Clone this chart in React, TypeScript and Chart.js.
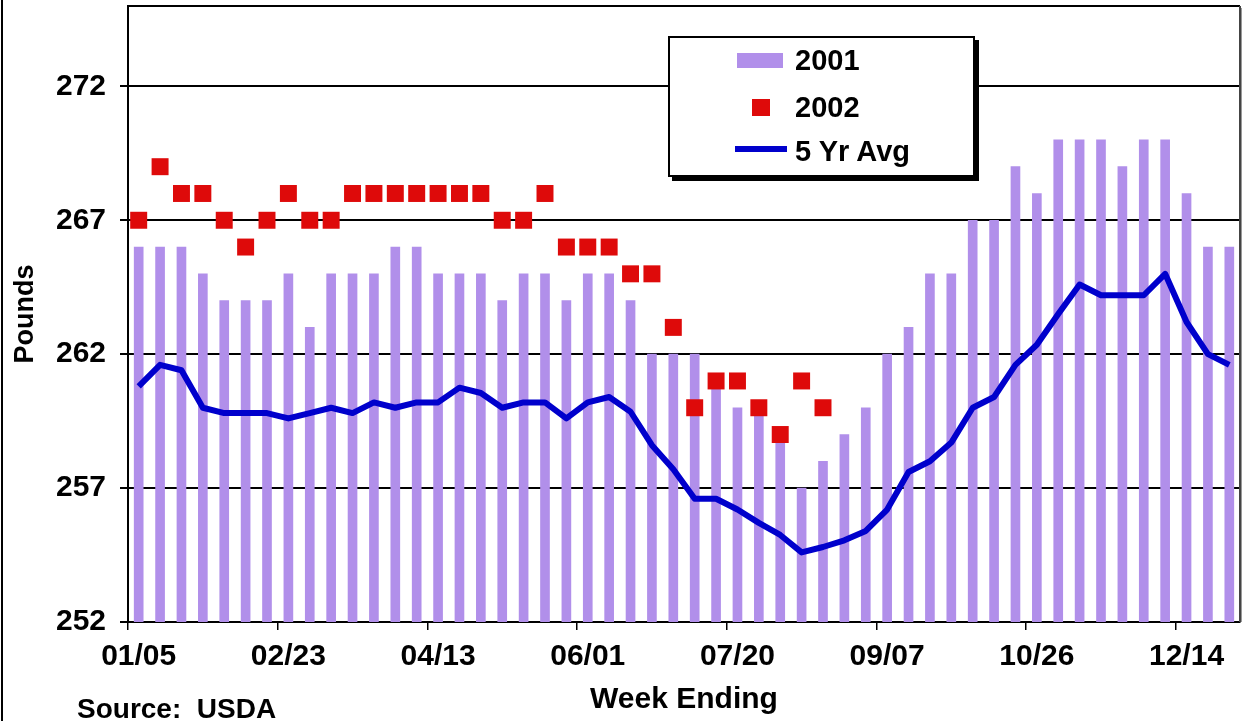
import React, { useEffect, useRef } from "react";
import { Chart, registerables } from "chart.js";

Chart.register(...registerables);

const WEEKS = [
  "01/05", "01/12", "01/19", "01/26", "02/02", "02/09", "02/16", "02/23",
  "03/02", "03/09", "03/16", "03/23", "03/30", "04/06", "04/13", "04/20",
  "04/27", "05/04", "05/11", "05/18", "05/25", "06/01", "06/08", "06/15",
  "06/22", "06/29", "07/06", "07/13", "07/20", "07/27", "08/03", "08/10",
  "08/17", "08/24", "08/31", "09/07", "09/14", "09/21", "09/28", "10/05",
  "10/12", "10/19", "10/26", "11/02", "11/09", "11/16", "11/23", "11/30",
  "12/07", "12/14", "12/21", "12/28",
];

const Y2001 = [
  266, 266, 266, 265, 264, 264, 264, 265, 263, 265, 265, 265, 266, 266, 265, 265,
  265, 264, 265, 265, 264, 265, 265, 264, 262, 262, 262, 261, 260, 260, 259, 257,
  258, 259, 260, 262, 263, 265, 265, 267, 267, 269, 268, 270, 270, 270, 269, 270,
  270, 268, 266, 266,
];

const Y2002 = [
  267, 269, 268, 268, 267, 266, 267, 268, 267, 267, 268, 268, 268, 268, 268, 268,
  268, 267, 267, 268, 266, 266, 266, 265, 265, 263, 260, 261, 261, 260, 259, 261,
  260, null, null, null, null, null, null, null, null, null, null, null, null, null,
  null, null, null, null, null, null,
];

const AVG5 = [
  260.8, 261.6, 261.4, 260.0, 259.8, 259.8, 259.8, 259.6, 259.8, 260.0, 259.8, 260.2,
  260.0, 260.2, 260.2, 260.75, 260.55, 260.0, 260.2, 260.2, 259.6, 260.2, 260.4, 259.85,
  258.6, 257.7, 256.6, 256.6, 256.2, 255.7, 255.25, 254.6, 254.8, 255.05, 255.4, 256.2,
  257.6, 258.0, 258.7, 260.0, 260.4, 261.6, 262.35, 263.5, 264.6, 264.2, 264.2, 264.2,
  265.0, 263.2, 262.0, 261.6,
];

const Y_TICKS = [252, 257, 262, 267, 272];
const Y_MIN = 252;
const Y_MAX = 275;
const LABEL_EVERY = 7;

const FONT = '"Liberation Sans", Arial, Helvetica, sans-serif';

const frame = {
  id: "frame",
  afterDatasetsDraw(chart: any) {
    const { ctx, chartArea } = chart;
    const { left, right, top, bottom } = chartArea;
    ctx.save();
    ctx.strokeStyle = "#000";
    ctx.lineWidth = 2;
    ctx.beginPath();
    ctx.moveTo(left, top);
    ctx.lineTo(right, top);
    ctx.stroke();
    ctx.strokeStyle = "#444";
    ctx.lineWidth = 2;
    ctx.beginPath();
    ctx.moveTo(right, top);
    ctx.lineTo(right, bottom);
    ctx.stroke();
    ctx.strokeStyle = "#999";
    ctx.lineWidth = 1;
    ctx.beginPath();
    ctx.moveTo(right + 1.5, top + 2);
    ctx.lineTo(right + 1.5, bottom);
    ctx.stroke();
    ctx.restore();
  },
};

export default function App() {
  const ref = useRef<HTMLCanvasElement | null>(null);

  useEffect(() => {
    if (!ref.current) return;
    const chart = new Chart(ref.current, {
      type: "bar",
      data: {
        labels: WEEKS,
        datasets: [
          {
            type: "bar",
            label: "2001",
            data: Y2001,
            backgroundColor: "#B18FEA",
            borderWidth: 0,
            barThickness: 9,
            order: 3,
          } as any,
          {
            type: "line",
            label: "2002",
            data: Y2002,
            showLine: false,
            pointStyle: "rect",
            pointRadius: 12,
            pointHoverRadius: 12,
            pointBackgroundColor: "#DE0A0A",
            pointBorderWidth: 0,
            borderWidth: 0,
            order: 2,
          } as any,
          {
            type: "line",
            label: "5 Yr Avg",
            data: AVG5,
            borderColor: "#0000CC",
            borderWidth: 6,
            pointRadius: 0,
            tension: 0,
            fill: false,
            borderJoinStyle: "round",
            order: 1,
          } as any,
        ],
      },
      options: {
        responsive: false,
        animation: false,
        devicePixelRatio: 1,
        layout: { autoPadding: false, padding: { left: 4, top: 6, right: 4, bottom: 0 } },
        plugins: {
          legend: { display: false },
          tooltip: { enabled: false },
        },
        scales: {
          x: {
            type: "category",
            offset: true,
            afterFit: (s: any) => {
              s.height = 99;
              s.paddingLeft = 0;
              s.paddingRight = 0;
            },
            grid: {
              offset: true,
              drawOnChartArea: false,
              drawTicks: true,
              tickLength: 8,
              lineWidth: 1.5,
              color: (c: any) => (c.index % LABEL_EVERY === 0 ? "#000" : "rgba(0,0,0,0)"),
            },
            border: { display: true, color: "#000", width: 2 },
            ticks: {
              autoSkip: false,
              maxRotation: 0,
              minRotation: 0,
              padding: 9,
              color: "#000",
              font: { family: FONT, size: 30, weight: "bold", lineHeight: 1.2 },
              callback: (_v: any, i: number) => (i % LABEL_EVERY === 0 ? WEEKS[i] : ""),
            },
            title: {
              display: true,
              text: "Week Ending",
              color: "#000",
              font: { family: FONT, size: 30, weight: "bold", lineHeight: 1.2 },
              padding: { top: 0, bottom: 3 },
            },
          },
          y: {
            type: "linear",
            min: Y_MIN,
            max: Y_MAX,
            afterFit: (s: any) => {
              s.width = 124;
              s.paddingTop = 0;
              s.paddingBottom = 0;
            },
            afterBuildTicks: (s: any) => {
              s.ticks = Y_TICKS.map((v) => ({ value: v }));
            },
            grid: {
              color: "#000",
              lineWidth: 2,
              drawTicks: true,
              tickLength: 8,
              tickColor: "#000",
            },
            border: { display: true, color: "#000", width: 2 },
            ticks: {
              padding: 14,
              color: "#000",
              font: { family: FONT, size: 30, weight: "bold", lineHeight: 1.2 },
            },
            title: {
              display: true,
              text: "Pounds",
              color: "#000",
              font: { family: FONT, size: 27, weight: "bold", lineHeight: 1.2 },
              padding: { top: 5.5, bottom: 0 },
            },
          },
        },
      } as any,
      plugins: [frame],
    });
    return () => chart.destroy();
  }, []);

  const legendText: React.CSSProperties = {
    position: "absolute",
    left: 125,
    fontFamily: FONT,
    fontWeight: "bold",
    fontSize: 29,
    lineHeight: "34px",
    color: "#000",
    whiteSpace: "pre",
  };

  return (
    <div
      style={{
        position: "absolute",
        left: 0,
        top: 0,
        width: 1244,
        height: 721,
        background: "#fff",
        overflow: "hidden",
      }}
    >
      <canvas
        ref={ref}
        width={1244}
        height={721}
        style={{ position: "absolute", left: 0, top: 0, width: 1244, height: 721 }}
      />
      <div style={{ position: "absolute", left: 1, top: 0, width: 2, height: 721, background: "#000" }} />
      <div
        style={{
          position: "absolute",
          left: 668,
          top: 36,
          width: 307,
          height: 141,
          boxSizing: "border-box",
          border: "2px solid #000",
          background: "#fff",
          boxShadow: "4px 4px 0 #000",
        }}
      >
        <div style={{ position: "absolute", left: 67, top: 15, width: 46, height: 15, background: "#B18FEA" }} />
        <div style={{ ...legendText, top: 5 }}>2001</div>
        <div style={{ position: "absolute", left: 82, top: 61, width: 18, height: 17, background: "#DE0A0A" }} />
        <div style={{ ...legendText, top: 52 }}>2002</div>
        <div style={{ position: "absolute", left: 65, top: 108, width: 52, height: 6, background: "#0000CC" }} />
        <div style={{ ...legendText, top: 96 }}>5 Yr Avg</div>
      </div>
      <div
        style={{
          position: "absolute",
          left: 77,
          top: 693,
          fontFamily: FONT,
          fontWeight: "bold",
          fontSize: 28,
          lineHeight: "32px",
          color: "#000",
          whiteSpace: "pre",
        }}
      >
        {"Source:  USDA"}
      </div>
    </div>
  );
}
